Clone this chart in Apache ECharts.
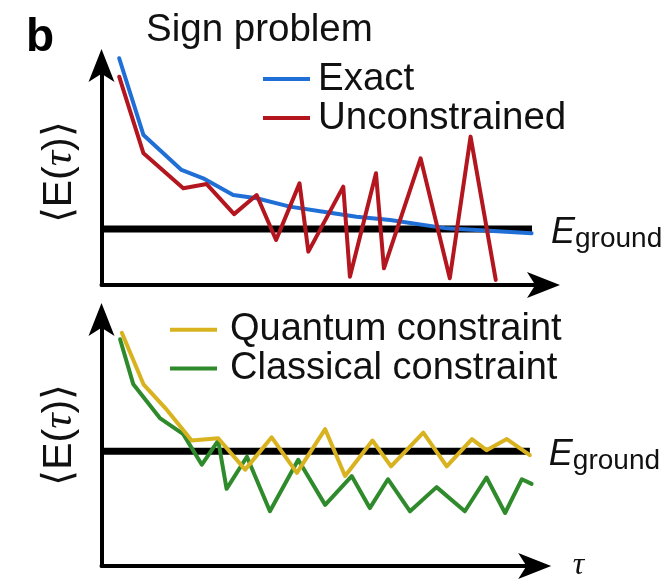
<!DOCTYPE html>
<html>
<head>
<meta charset="utf-8">
<script src="https://cdn.jsdelivr.net/npm/echarts@6/dist/echarts.min.js"></script>
<style>
  html, body { margin: 0; padding: 0; background: #fff; }
  #chart { width: 669px; height: 582px; }
</style>
</head>
<body>
<div id="chart"></div>
<script>
// Imaginary-time (τ) samples and energy estimates, upper panel
const tauExact = [4.0, 9.5, 18.1, 23.0, 29.8, 35.1, 42.6, 50.2, 57.7, 65.3, 78.1, 97.3];
const energyExact = [103.3, 68.3, 52.4, 48.6, 41.0, 39.5, 35.7, 33.4, 31.1, 29.6, 25.8, 23.6];
const tauUnconstrained = [4.0, 9.5, 18.5, 23.8, 30.0, 35.1, 39.5, 44.8, 46.8, 54.7, 56.2, 62.1, 63.9, 72.2, 78.8, 83.5, 89.2];
const energyUnconstrained = [94.9, 60.0, 44.1, 46.0, 32.3, 41.0, 20.5, 46.3, 15.2, 44.8, 3.8, 50.9, 7.6, 57.7, 3.1, 67.6, 2.3];

// Lower panel
const tauQuantum = [4.6, 9.5, 14.8, 20.4, 26.4, 32.5, 38.5, 44.2, 50.6, 55.1, 61.3, 65.5, 72.8, 78.1, 83.8, 87.1, 91.7, 96.9];
const energyQuantum = [94.6, 73.7, 63.3, 50.9, 51.8, 39.1, 52.2, 37.8, 55.5, 36.5, 50.9, 40.4, 54.1, 40.4, 51.5, 47.0, 51.5, 45.0];
const tauClassical = [4.2, 7.2, 13.2, 18.5, 22.7, 26.4, 28.3, 32.9, 38.1, 44.5, 50.6, 56.6, 60.7, 64.8, 69.8, 75.8, 82.2, 87.1, 91.3, 95.1, 97.3];
const energyClassical = [92.0, 73.7, 60.0, 53.5, 41.1, 50.9, 31.3, 44.3, 22.2, 43.1, 24.8, 36.5, 23.5, 35.2, 22.2, 32.0, 22.2, 35.9, 21.5, 35.2, 33.3];

// Ground-state energy reference lines
const groundTauTop = [0, 97.4];
const groundTauBottom = [0, 96.9];
const groundEnergyTop = 25.5;
const groundEnergyBottom = 46.6;

// Axis ranges
const tauMaxTop = 100;
const tauMaxBottom = 98;
const energyMax = 100;

const SANS = '"Liberation Sans", Arial, Helvetica, sans-serif';
const SERIF = '"Liberation Serif", "Times New Roman", serif';

const pairs = (xs, ys) => xs.map((x, i) => [x, ys[i]]);
const flat = (xs, y) => xs.map(x => [x, y]);

// Axis lines end in a filled arrowhead placed beyond the line end
const axisArrow = {
  show: true,
  onZero: false,
  symbol: ['none', 'arrow'],
  symbolSize: [19.5, 33],
  symbolOffset: [0, 16.5],
  lineStyle: { color: '#000', width: 4 }
};

function valueAxis(gridIndex, max, extra) {
  return Object.assign({
    type: 'value',
    gridIndex: gridIndex,
    min: 0,
    max: max,
    axisLine: axisArrow,
    axisTick: { show: false },
    axisLabel: { show: false },
    splitLine: { show: false }
  }, extra || {});
}

function energyName(shift) {
  return {
    name: '{n|⟨E(}{t|τ}{n|)⟩}',
    nameLocation: 'middle',
    nameRotate: 90,
    nameGap: 20,
    nameTextStyle: {
      padding: [0, 0, 0, shift],
      rich: {
        n: { fontFamily: SANS, fontSize: 41, color: '#111' },
        t: { fontFamily: SERIF, fontStyle: 'italic', fontSize: 43, color: '#111' }
      }
    }
  };
}

const groundLabel = {
  show: true,
  formatter: '{e|E}{s|ground}',
  distance: 19,
  offset: [0, 4],
  rich: {
    e: { fontFamily: SANS, fontStyle: 'italic', fontSize: 36, lineHeight: 40, color: '#111' },
    s: { fontFamily: SANS, fontSize: 28, lineHeight: 12, verticalAlign: 'bottom', color: '#111' }
  }
};

function groundSeries(xi, yi, taus, e) {
  return {
    type: 'line',
    xAxisIndex: xi,
    yAxisIndex: yi,
    data: flat(taus, e),
    symbol: 'none',
    silent: true,
    lineStyle: { color: '#000', width: 7, cap: 'butt' },
    endLabel: groundLabel,
    z: 2
  };
}

function curve(name, xi, yi, xs, ys, color, z) {
  return {
    name: name,
    type: 'line',
    xAxisIndex: xi,
    yAxisIndex: yi,
    data: pairs(xs, ys),
    symbol: 'none',
    clip: false,
    color: color,
    lineStyle: { color: color, width: 4, join: 'round', cap: 'round' },
    z: z
  };
}

const option = {
  animation: false,
  backgroundColor: '#fff',
  title: [
    { text: 'b', left: 21, top: 10,
      textStyle: { fontFamily: SANS, fontWeight: 'bold', fontSize: 46, lineHeight: 46, color: '#000' } },
    { text: 'Sign problem', left: 141, top: 5,
      textStyle: { fontFamily: SANS, fontWeight: 'normal', fontSize: 38.5, lineHeight: 40, color: '#111' } }
  ],
  legend: [
    {
      data: ['Exact', 'Unconstrained'],
      orient: 'vertical',
      left: 263, top: 59.5,
      padding: 0, itemGap: 0,
      icon: 'rect', itemWidth: 47, itemHeight: 4,
      selectedMode: false,
      textStyle: { fontFamily: SANS, fontSize: 38.5, lineHeight: 39, color: '#111', padding: [0, 0, 0, 3] }
    },
    {
      data: ['Quantum constraint', 'Classical constraint'],
      orient: 'vertical',
      left: 170, top: 310.5,
      padding: 0, itemGap: 0,
      icon: 'rect', itemWidth: 47, itemHeight: 4,
      selectedMode: false,
      textStyle: { fontFamily: SANS, fontSize: 38, lineHeight: 38.7, color: '#111', padding: [0, 0, 0, 8] }
    }
  ],
  grid: [
    { left: 101.5, top: 65.5, width: 442, height: 219.5 },
    { left: 101.5, top: 319.5, width: 433.2, height: 255.5 }
  ],
  xAxis: [
    valueAxis(0, tauMaxTop),
    valueAxis(1, tauMaxBottom, {
      name: 'τ',
      nameLocation: 'end',
      nameGap: 38,
      nameTextStyle: { fontFamily: SERIF, fontStyle: 'italic', fontSize: 32, color: '#111', padding: [0, 0, 19, 0] }
    })
  ],
  yAxis: [
    valueAxis(0, energyMax, energyName(6)),
    valueAxis(1, energyMax, energyName(16))
  ],
  series: [
    groundSeries(0, 0, groundTauTop, groundEnergyTop),
    curve('Exact', 0, 0, tauExact, energyExact, '#1f6fd6', 3),
    curve('Unconstrained', 0, 0, tauUnconstrained, energyUnconstrained, '#b3161e', 4),
    groundSeries(1, 1, groundTauBottom, groundEnergyBottom),
    curve('Classical constraint', 1, 1, tauClassical, energyClassical, '#2f8a2b', 3),
    curve('Quantum constraint', 1, 1, tauQuantum, energyQuantum, '#d9b21f', 4)
  ]
};

const chart = echarts.init(document.getElementById('chart'), null, { renderer: 'canvas' });
chart.setOption(option);
</script>
</body>
</html>
